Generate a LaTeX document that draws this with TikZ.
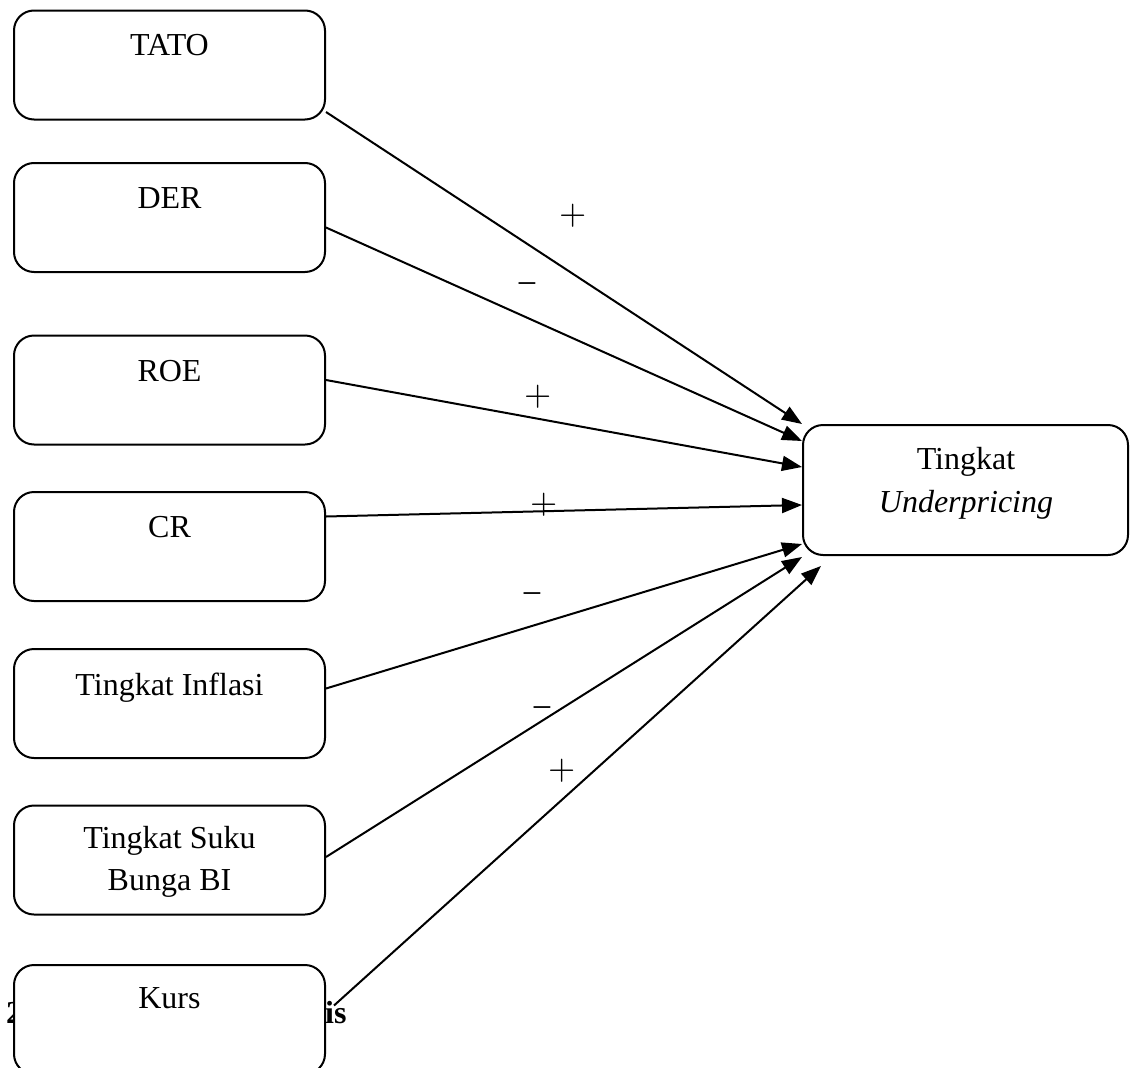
\documentclass[tikz,border=0pt]{standalone}
\usepackage{fontspec}
\setmainfont{Liberation Serif}
\newfontfamily\lmfont{lmroman10-regular}[Extension=.otf]
\usetikzlibrary{arrows.meta,calc}
\begin{document}
\begin{tikzpicture}[x=1pt,y=-1pt,
  box/.style={draw,line width=2pt,rounded corners=20pt,minimum width=311pt,minimum height=109pt,inner sep=0pt,fill=white},
  txt/.style={font=\fontsize{32}{42}\selectfont,inner sep=0pt,anchor=base},
  arr/.style={line width=2pt,-{Triangle[length=20pt,width=15pt]}},
  plus/.style={font=\lmfont\fontsize{35}{35}\selectfont,inner sep=0pt},
  minus/.style={font=\fontsize{36}{36}\selectfont,inner sep=0pt}]
\useasboundingbox (0,0) rectangle (1130,1068);
% partly hidden heading behind the Kurs box
\node[font=\fontsize{32}{40}\selectfont\bfseries,inner sep=0pt,anchor=base west] (h2) at (6,1023) {2};
\node[font=\fontsize{32}{40}\selectfont\bfseries,inner sep=0pt,anchor=base west] (his) at (325,1023) {is};
% boxes
\node[box] (tato) at (169.5,65) {};
\node[box] (der) at (169.5,217.5) {};
\node[box] (roe) at (169.5,390) {};
\node[box] (cr) at (169.5,546.5) {};
\node[box] (inf) at (169.5,703.5) {};
\node[box] (suku) at (169.5,860) {};
\node[box] (kurs) at (169.5,1019.5) {};
\node[box,minimum width=325pt,minimum height=130pt] (tgt) at (965.5,490) {};
% texts
\node[txt] (ttato) at (169.5,55) {TATO};
\node[txt] (tder) at (169.5,208) {DER};
\node[txt] (troe) at (169.5,381) {ROE};
\node[txt] (tcr) at (169.5,537) {CR};
\node[txt] (tinf) at (169.5,695) {Tingkat Inflasi};
\node[txt] (tsuku1) at (169.5,848) {Tingkat Suku};
\node[txt] (tsuku2) at (169.5,890) {Bunga BI};
\node[txt] (tkurs) at (169.5,1008) {Kurs};
\node[txt] (ttgt1) at (966,469) {Tingkat};
\node[txt] (ttgt2) at (966,512) {\textit{Underpricing}};
% connectors
\draw[arr] ($(tato.east)+(0,47)$) -- (tgt.north west);
\draw[arr] ($(der.east)+(0,10)$) -- ($(tgt.north west)+(0,17)$);
\draw[arr] ($(roe.east)+(0,-10)$) -- ($(tgt.north west)+(0,43)$);
\draw[arr] ($(cr.east)+(0,-30)$) -- ($(tgt.north west)+(0,81)$);
\draw[arr] ($(inf.east)+(0,-15)$) -- ($(tgt.north west)+(0,120)$);
\draw[arr] ($(suku.east)+(0,-3)$) -- ($(tgt.south west)+(0,1)$);
\draw[arr] ($(kurs.east)+(8,-14)$) -- ($(tgt.south west)+(19,10)$);
% signs
\node[plus] (p1) at (573,216) {+};
\node[minus] (m1) at (527,289) {−};
\node[plus] (p2) at (538,397) {+};
\node[plus] (p3) at (544,505) {+};
\node[minus] (m2) at (532,599) {−};
\node[minus] (m3) at (542,713) {−};
\node[plus] (p4) at (562,771) {+};
\end{tikzpicture}
\end{document}
